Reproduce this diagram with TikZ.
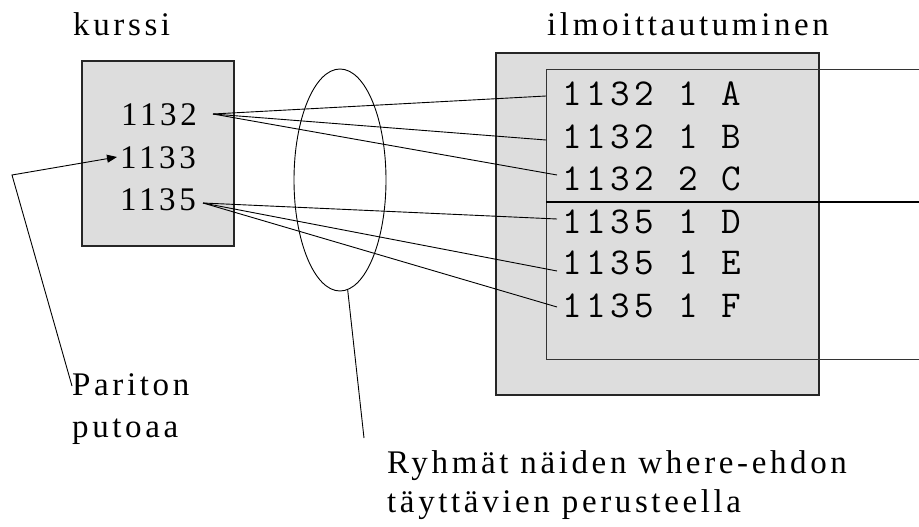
\documentclass[tikz,border=0pt]{standalone}
\usepackage{fontspec}
\setmainfont{Liberation Serif}[LetterSpace=11]
\setmonofont{Latin Modern Mono}[LetterSpace=12]
\usetikzlibrary{arrows.meta,shapes.geometric}

\definecolor{boxgray}{HTML}{DDDDDD}
\definecolor{edgegray}{HTML}{333333}

\tikzset{
  lbl/.style={anchor=base west, inner sep=0pt, font=\fontsize{33}{38}\selectfont},
  rowtxt/.style={anchor=base west, inner sep=0pt, font=\ttfamily\fontsize{38}{40}\selectfont},
  tablebox/.style={draw=black!85, line width=1.2pt, fill=boxgray},
  link/.style={draw=black, line width=0.9pt},
  frameline/.style={draw=edgegray, line width=1pt},
}

\begin{document}
\begin{tikzpicture}[x=1pt, y=-1pt]
\useasboundingbox (0,0) rectangle (919,527);

% table boxes
\draw[tablebox] (82,61) rectangle (234,246);
\draw[tablebox] (496,53) rectangle (819,395);

% group frame of the second table
\draw[frameline] (919,70) -- (546,70) -- (546,359) -- (919,359);
\draw[draw=black, line width=1.4pt] (546,202) -- (919,202);

% titles
\node[lbl] (tk) at (73,36) {kurssi};
\node[lbl] (ti) at (547,36) {ilmoittautuminen};

% course codes
\node[lbl] (k1) at (121,125) {1132};
\node[lbl] (k2) at (120,168) {1133};
\node[lbl] (k3) at (120,210) {1135};

% registration rows
\node[rowtxt] (r1) at (562,106) {1132 1 A};
\node[rowtxt] (r2) at (562,148) {1132 1 B};
\node[rowtxt] (r3) at (562,190) {1132 2 C};
\node[rowtxt] (r4) at (562,233) {1135 1 D};
\node[rowtxt] (r5) at (562,274) {1135 1 E};
\node[rowtxt] (r6) at (562,317) {1135 1 F};

% connector end points
\coordinate (s1) at (213,114);
\coordinate (s3) at (203,203);
\coordinate (e1) at (546,96);
\coordinate (e2) at (546,140);
\coordinate (e3) at (557,175);
\coordinate (e4) at (557,219);
\coordinate (e5) at (557,271);
\coordinate (e6) at (557,307);

\draw[link] (s1) -- (e1);
\draw[link] (s1) -- (e2);
\draw[link] (s1) -- (e3);
\draw[link] (s3) -- (e4);
\draw[link] (s3) -- (e5);
\draw[link] (s3) -- (e6);

% grouping ellipse and its note
\node[draw=black, line width=0.9pt, ellipse, inner sep=0pt,
      minimum width=92pt, minimum height=222pt] (grp) at (340,180) {};
\node[lbl] (n1) at (387,473) {Ryhmät näiden where-ehdon};
\node[lbl] (n2) at (387,512) {täyttävien perusteella};
\coordinate (gn) at (364,438);
\draw[link] (grp.-86) -- (gn);

% odd-code note
\node[lbl] (p1) at (72,395) {Pariton};
\node[lbl] (p2) at (72,437) {putoaa};
\coordinate (bend) at (12,175);
\coordinate (pt) at (72,386);
\coordinate (tip) at (117,157);
\draw[link, -{Triangle[length=10pt,width=8pt]}] (pt) -- (bend) -- (tip);
\end{tikzpicture}
\end{document}
